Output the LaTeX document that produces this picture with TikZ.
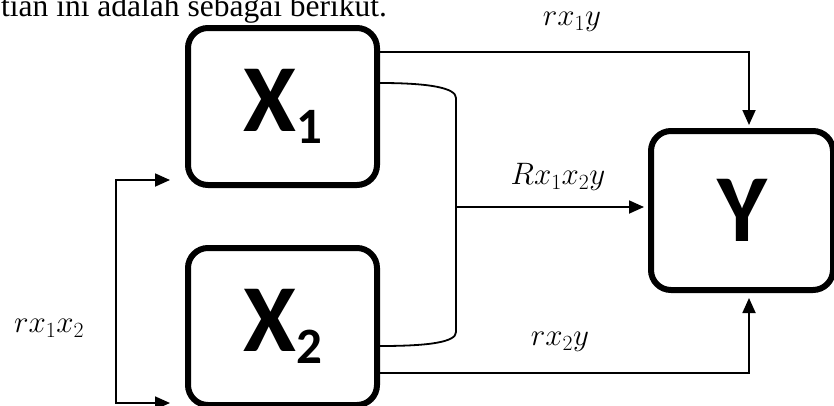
\RequirePackage{fix-cm}
\documentclass[tikz,border=0pt]{standalone}
\usepackage{fontspec}
\setmainfont{Liberation Serif}
\newfontfamily\carlito{Carlito}
\usetikzlibrary{arrows.meta,calc}
\newcommand{\bigX}[1]{{\carlito\bfseries\fontsize{96}{96}\selectfont X\raisebox{-12pt}{\fontsize{51}{51}\selectfont #1}}}
\begin{document}
\begin{tikzpicture}[x=1pt,y=-1pt,
  box/.style={draw,line width=6pt,rounded corners=20pt,inner sep=0pt,outer sep=3pt,
    minimum width=189pt,minimum height=157pt},
  conn/.style={line width=1.8pt},
  arr/.style={conn,-{Triangle[length=15pt,width=13pt]},shorten >=3pt},
  lbl/.style={font=\fontsize{31}{33}\selectfont,inner sep=0pt}
]
\useasboundingbox (0,0) rectangle (834,405);
\clip (0,0) rectangle (834,405);
\node[anchor=base west,inner sep=0pt,font=\fontsize{31.5}{33}\selectfont] (txt) at (1,16) {tian ini adalah sebagai berikut.};
\node[box] (X1) at (282.5,106.5) {\bigX{1}};
\node[box] (X2) at (282.5,326.5) {\bigX{2}};
\node[box,minimum width=182pt,minimum height=159pt] (Y) at (742,210.5)
  {\carlito\bfseries\fontsize{96}{96}\selectfont Y};
% top connector
\draw[arr] ([yshift=54.5pt]X1.east) -| ([xshift=7pt]Y.north);
% bracket joining X1 and X2
\coordinate (a) at ([yshift=23.5pt]X1.east);
\coordinate (b) at ([yshift=-19.5pt]X2.east);
\coordinate (c1) at (456,98);
\coordinate (c2) at (456,332);
\coordinate (j) at (456,207);
\draw[conn] (a) .. controls (430,83) and (456,88) .. (c1) -- (c2)
  .. controls (456,342) and (430,346) .. (b);
\draw[arr,shorten >=4pt] (j) -- (j -| Y.west);
% bottom connector
\draw[arr,shorten >=5pt] ([yshift=-46.5pt]X2.east) -| ([xshift=7pt]Y.south);
% left bracket
\coordinate (l1) at (116,180);
\coordinate (l2) at (116,403);
\draw[conn,{Triangle[length=15pt,width=13pt]}-{Triangle[length=15pt,width=13pt]},
  shorten <=15pt,shorten >=15pt] (X1.west |- l1) -- (l1) -- (l2) -- (X2.west |- l2);
% labels
\node[lbl] (L1) at (572,22) {$rx_1y$};
\node[lbl] (L2) at (558,177) {$Rx_1x_2y$};
\node[lbl] (L3) at (560,342) {$rx_2y$};
\node[lbl] (L4) at (49,328) {$rx_1x_2$};
\end{tikzpicture}
\end{document}
